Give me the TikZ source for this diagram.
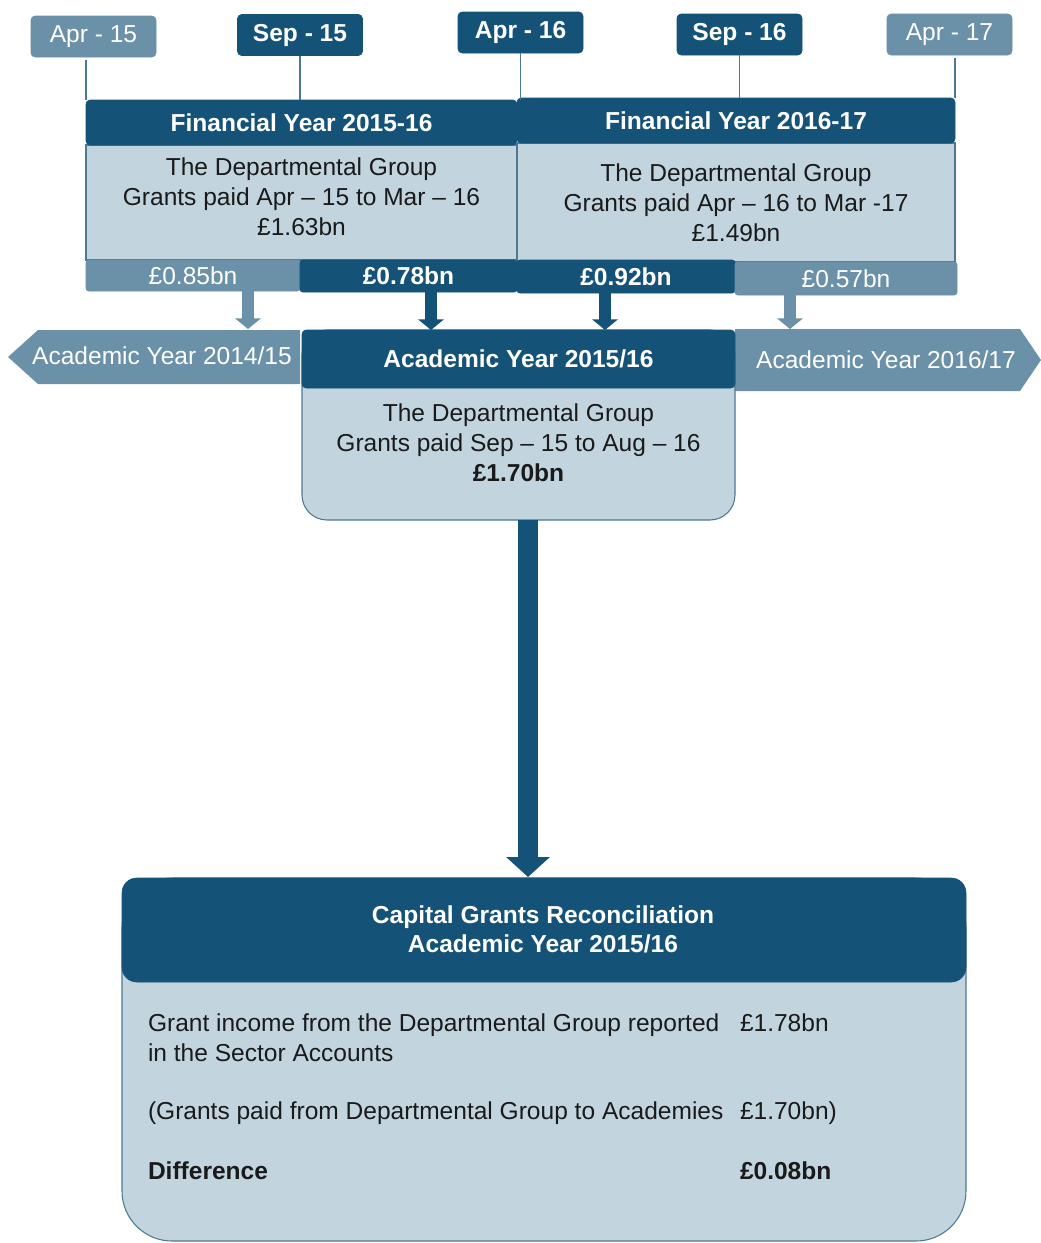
\documentclass[tikz,border=0pt]{standalone}
\usepackage{fontspec}
\setmainfont{Liberation Sans}
\usetikzlibrary{arrows.meta,calc}
\definecolor{dk}{HTML}{155277}
\definecolor{md}{HTML}{6A91A8}
\definecolor{lt}{HTML}{C2D5DF}
\definecolor{ln}{HTML}{4D7892}
\definecolor{tx}{HTML}{1A1A1A}
\newcommand{\fsz}{\fontsize{18.4}{22.5}\selectfont}
\tikzset{
  base/.style={inner sep=0pt, outer sep=0pt, font=\fsz},
  boldtext/.style={font=\fsz\bfseries},
  datebox/.style={base, rectangle, rounded corners=3pt, minimum width=93.75pt, minimum height=30.75pt, text=white},
  darkfill/.style={fill=dk, draw=dk},
  medfill/.style={fill=md, draw=md},
  hdr/.style={base, rectangle, rounded corners=3pt, fill=dk, draw=dk, text=white, boldtext},
  bodybox/.style={base, rectangle, fill=lt, draw=ln, line width=0.8pt},
  bodytext/.style={base, text=tx, align=center},
  bar/.style={base, rectangle, rounded corners=2pt, text=white},
  tline/.style={draw=ln, line width=1pt},
  sarrow/.style={line width=8.6pt, -{Triangle[length=8pt,width=19pt]}},
  barrow/.style={draw=dk, line width=15.5pt, -{Triangle[length=15pt,width=32pt]}},
}
\begin{document}
\begin{tikzpicture}[x=0.75pt,y=-0.75pt]
\useasboundingbox (0,0) rectangle (1041,1243);

% date labels
\node[datebox, medfill] (apr15) at (93.5,36.5) {Apr - 15};
\node[datebox, darkfill, boldtext] (sep15) at (300,35) {Sep - 15};
\node[datebox, darkfill, boldtext] (apr16) at (520.5,32.5) {Apr - 16};
\node[datebox, darkfill, boldtext] (sep16) at (739.5,34.5) {Sep - 16};
\node[datebox, medfill] (apr17) at (949.5,34.5) {Apr - 17};

% financial year boxes
\node[bodybox, minimum width=323.25pt, minimum height=86.25pt] (fy1b) at (301.5,202.5) {};
\node[hdr, minimum width=323.25pt, minimum height=33.75pt] (fy1h) at (301.5,122.5) {Financial Year 2015-16};
\node[bodytext] (fy1t) at (301.5,197) {The Departmental Group\\Grants paid Apr -- 15 to Mar -- 16\\£1.63bn};

\node[bodybox, minimum width=328.5pt, minimum height=89.25pt] (fy2b) at (736,202.5) {};
\node[hdr, minimum width=328.5pt, minimum height=33.75pt] (fy2h) at (736,120.5) {Financial Year 2016-17};
\node[bodytext] (fy2t) at (736,203) {The Departmental Group\\Grants paid Apr -- 16 to Mar -17\\£1.49bn};

% timeline ticks
\draw[tline] ([yshift=-2pt]apr15.south -| fy1b.west) -- (fy1h.north west);
\draw[tline] (sep15.south) -- (sep15.south |- fy1h.north);
\draw[tline] (apr16.south) -- (apr16.south |- fy1h.north);
\draw[tline] (sep16.south) -- (sep16.south |- fy2h.north);
\draw[tline] ([yshift=-2pt]apr17.south -| fy2h.east) -- (fy2h.north east);

% amount bars
\node[bar, medfill, minimum width=160.5pt, minimum height=23.25pt] (a1) at (193,275.5) {£0.85bn};
\node[bar, darkfill, boldtext, minimum width=162.75pt, minimum height=24pt] (a2) at (408.5,276) {£0.78bn};
\node[bar, darkfill, boldtext, minimum width=163.5pt, minimum height=24.75pt] (a3) at (626,276.5) {£0.92bn};
\node[bar, medfill, minimum width=166.5pt, minimum height=24.75pt] (a4) at (846,278.5) {£0.57bn};

% academic year 2014/15 (pointing left)
\fill[md] (300,330) -- (38,330) -- (8,357) -- (38,384) -- (300,384) -- cycle;
\node[base, text=white] (ay1) at (162,356) {Academic Year 2014/15};

% academic year 2016/17 (pointing right)
\fill[md] (735,329) -- (1020,329) -- (1041,360) -- (1020,391) -- (735,391) -- cycle;
\node[base, text=white] (ay3) at (886,360) {Academic Year 2016/17};

% academic year 2015/16
\node[bodybox, rounded corners=18.75pt, minimum width=324.75pt, minimum height=142.5pt] (ay2b) at (518.5,425) {};
\node[hdr, minimum width=324.75pt, minimum height=43.5pt] (ay2h) at (518.5,359) {Academic Year 2015/16};
\node[bodytext] (ay2t) at (518.5,443) {The Departmental Group\\Grants paid Sep -- 15 to Aug -- 16\\\textbf{£1.70bn}};

% small arrows
\coordinate (t1) at (248,329);
\coordinate (t2) at (431,329);
\coordinate (t3) at (605,329);
\coordinate (t4) at (790,329);
\draw[sarrow, md] (a1.south -| t1) -- (t1);
\draw[sarrow, dk] (a2.south -| t2) -- (t2 |- ay2h.north);
\draw[sarrow, dk] (a3.south -| t3) -- (t3 |- ay2h.north);
\draw[sarrow, md] (a4.south -| t4) -- (t4);

% reconciliation box
\node[bodybox, rounded corners=37.5pt, minimum width=633pt, minimum height=272.25pt] (recb) at (544,1059.5) {};
\node[hdr, rounded corners=11pt, minimum width=633pt, minimum height=78pt] (rech) at (544,930) {};
\node[base, text=white, align=center, font=\fontsize{18.4}{21.75}\selectfont\bfseries] (rect) at (543,929.5) {Capital Grants Reconciliation\\Academic Year 2015/16};

% big arrow
\coordinate (bt) at (528,877);
\draw[barrow] (ay2b.south -| bt) -- (bt);

% reconciliation contents
\node[base, text=tx, anchor=west, align=left] (r1) at (148,1038) {Grant income from the Departmental Group reported\\in the Sector Accounts};
\node[base, text=tx, anchor=west] (v1) at (740,1023) {£1.78bn};
\node[base, text=tx, anchor=west] (r2) at (148,1113) {(Grants paid from Departmental Group to Academies};
\node[base, text=tx, anchor=west] (v2) at (740,1113) {£1.70bn)};
\node[base, text=tx, anchor=west, boldtext] (r3) at (148,1171) {Difference};
\node[base, text=tx, anchor=west, boldtext] (v3) at (740,1171) {£0.08bn};
\end{tikzpicture}
\end{document}
